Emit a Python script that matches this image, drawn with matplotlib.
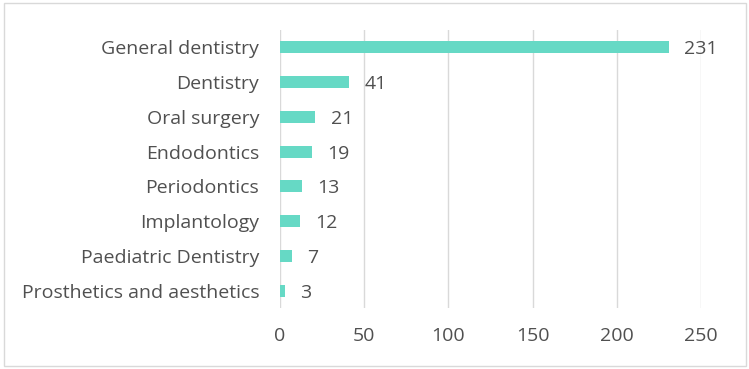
import matplotlib.pyplot as plt
from matplotlib.patches import Rectangle

categories = ['General dentistry', 'Dentistry', 'Oral surgery', 'Endodontics',
              'Periodontics', 'Implantology', 'Paediatric Dentistry',
              'Prosthetics and aesthetics']
counts = [231, 41, 21, 19, 13, 12, 7, 3]

plt.rcParams['font.family'] = ['Open Sans', 'DejaVu Sans']
text_col = '#505050'

fig = plt.figure(figsize=(7.49, 3.69), dpi=100)
ax = fig.add_axes([0.3738, 0.1653, 0.5622, 0.7534])

y = list(range(len(categories)))[::-1]
ax.barh(y, counts, height=0.35, color='#66D9C5', zorder=3)
for yi, v in zip(y, counts):
    ax.annotate(str(v), (v, yi), xytext=(11, 0), textcoords='offset points',
                va='center_baseline', ha='left', fontsize=14, color=text_col)

ax.set_xlim(0, 250)
ax.set_ylim(-0.5, len(categories) - 0.5)
ax.set_xticks(range(0, 251, 50))
ax.set_yticks(y)
ax.set_yticklabels(categories)
ax.grid(axis='x', color='#D9D9D9', linewidth=1, zorder=0)
for s in ax.spines.values():
    s.set_visible(False)
ax.tick_params(axis='both', length=0, labelsize=14, colors=text_col)
ax.tick_params(axis='x', pad=14)
ax.tick_params(axis='y', pad=15)
for lab in ax.get_yticklabels():
    lab.set_verticalalignment('center_baseline')

fig.patches.append(Rectangle((4 / 749, 3 / 369), 742 / 749, 363 / 369,
                             transform=fig.transFigure, fill=False,
                             edgecolor='#D9D9D9', linewidth=1))

fig.savefig('out.png', dpi=100)
